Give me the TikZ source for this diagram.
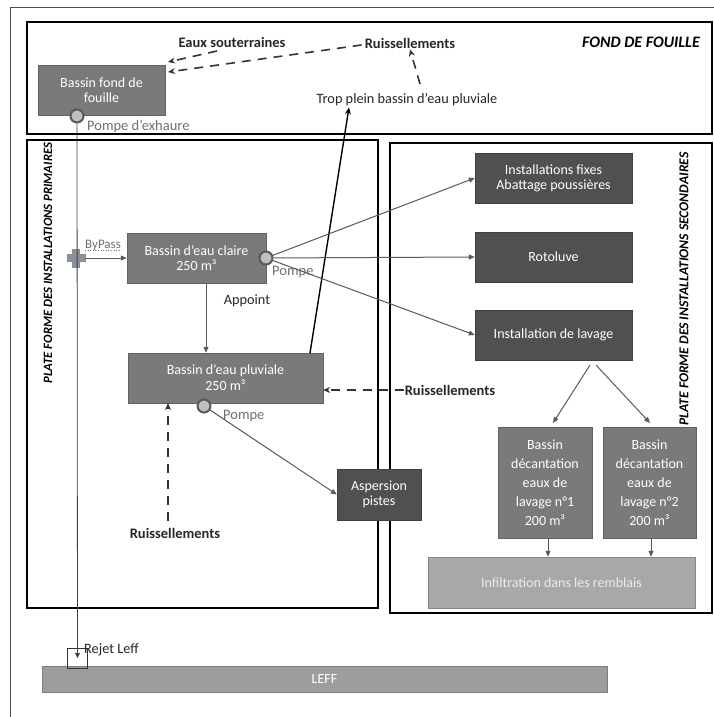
\documentclass[tikz,border=0pt]{standalone}
\usepackage{fontspec}
\setmainfont{Carlito}
\usetikzlibrary{arrows.meta,calc}
\definecolor{midgray}{HTML}{7A7A7A}
\definecolor{darkbox}{HTML}{505050}
\definecolor{lightbox}{HTML}{A8A8A8}
\definecolor{leffgray}{HTML}{9C9E9C}
\definecolor{flow}{HTML}{5A5A5A}
\definecolor{labgray}{HTML}{707070}
\definecolor{crossgray}{HTML}{8A909C}
\begin{document}
\begin{tikzpicture}[x=1pt,y=-1pt,
  boxtext/.style={text=white,align=center,inner sep=0pt,font=\fontsize{14}{15}\selectfont},
  midbox/.style={boxtext,fill=midgray,draw=midgray!80!black,line width=0.4pt},
  darkbox/.style={boxtext,fill=darkbox,draw=darkbox!80!black,line width=0.4pt},
  frame/.style={draw=black,line width=2.6pt},
  lab/.style={font=\fontsize{14.5}{16}\selectfont\bfseries,text=black!85,inner sep=1pt},
  plainlab/.style={font=\fontsize{14.3}{16}\selectfont,text=black!85,inner sep=1pt},
  graylab/.style={font=\fontsize{14.5}{16}\selectfont,text=labgray,inner sep=0pt,anchor=west},
  pump/.style={circle,draw=black!65,line width=2pt,fill=black!25,minimum size=13pt,inner sep=0pt},
  flowarrow/.style={draw=flow,line width=1pt,-{Triangle[length=6pt,width=5pt]}},
  dasharrow/.style={draw=black!80,line width=1.6pt,dash pattern=on 9pt off 7pt,-{Stealth[length=7pt,width=6pt]}},
  vlab/.style={font=\bfseries\itshape,rotate=90,inner sep=0pt}
]
\useasboundingbox (0,0) rectangle (714,717);
\fill[white] (0,0) rectangle (714,717);
% page border
\draw[black!70,line width=0.8pt] (10,717) -- (10,7) -- (714,7);
% frames
\draw[frame] (27,22) rectangle (712,134);
\draw[frame] (27,140) rectangle (378,608);
\draw[frame] (390,143) rectangle (712,613);
\node[vlab,font=\fontsize{12.7}{14}\selectfont\bfseries\itshape] (vprim) at (48,263) {PLATE FORME DES INSTALLATIONS PRIMAIRES};
\node[vlab,font=\fontsize{13.6}{16}\selectfont\bfseries\itshape] (vsec) at (684,289) {PLATE FORME DES INSTALLATIONS SECONDAIRES};
\node[font=\fontsize{16}{18}\selectfont\bfseries\itshape] (ff) at (641,42) {FOND DE FOUILLE};

% boxes
\node[midbox,minimum width=127pt,minimum height=50pt] (fond) at (101.5,90) {Bassin fond de\\fouille};
\node[midbox,minimum width=139pt,minimum height=50pt] (claire) at (196.5,258) {Bassin d’eau claire\\250 m³};
\node[midbox,minimum width=195pt,minimum height=50pt,font=\fontsize{14}{16}\selectfont] (pluv) at (225.5,378) {Bassin d’eau pluviale\\250 m³};
\node[darkbox,minimum width=84pt,minimum height=51pt] (asp) at (379,494.5) {Aspersion\\pistes};
\node[darkbox,minimum width=157pt,minimum height=50pt] (fixes) at (553.5,178) {Installations fixes\\Abattage poussières};
\node[darkbox,minimum width=157pt,minimum height=50pt] (roto) at (553.5,257) {Rotoluve};
\node[darkbox,minimum width=157pt,minimum height=50pt] (lav) at (553.5,335) {Installation de lavage};
\node[midbox,minimum width=94pt,minimum height=111pt,font=\fontsize{14}{19}\selectfont] (dec1) at (545,482.5) {Bassin\\décantation\\eaux de\\lavage n°1\\200 m³};
\node[midbox,minimum width=93pt,minimum height=111pt,font=\fontsize{14}{19}\selectfont] (dec2) at (649.5,482.5) {Bassin\\décantation\\eaux de\\lavage n°2\\200 m³};
\node[boxtext,fill=lightbox,draw=lightbox!80!black,line width=0.4pt,minimum width=267pt,minimum height=51pt,text=white!92!black] (inf) at (561.5,582.5) {Infiltration dans les remblais};
\node[boxtext,fill=leffgray,draw=leffgray!80!black,line width=0.4pt,minimum width=565pt,minimum height=26pt] (leff) at (324.5,679) {LEFF};

% labels
\node[lab] (eaux) at (232,42) {Eaux souterraines};
\node[lab] (ruisT) at (410,43) {Ruissellements};
\node[plainlab] (trop) at (407,100) {Trop plein bassin d’eau pluviale};
\node[plainlab] (appoint) at (247,301) {Appoint};
\node[lab] (ruisR) at (450,390) {Ruissellements};
\node[lab] (ruisB) at (175,533) {Ruissellements};

% pumps
\node[pump] (pA) at (77,116) {};
\node[pump] (pB) at (266,258) {};
\node[pump] (pC) at (204,406) {};
\node[graylab] (lA) at (87,127) {Pompe d’exhaure};
\node[graylab] (lB) at (272,272) {Pompe};
\node[graylab] (lC) at (223,416) {Pompe};

% bypass cross
\coordinate (bp) at (76,258);
\fill[fill=crossgray,draw=black!45,line width=0.3pt,shift={(bp)}]
  (-3.5,-9) -- (3.5,-9) -- (3.5,-3.5) -- (9,-3.5) -- (9,3.5) -- (3.5,3.5) -- (3.5,9) -- (-3.5,9) -- (-3.5,3.5) -- (-9,3.5) -- (-9,-3.5) -- (-3.5,-3.5) -- cycle;
\node[graylab,font=\fontsize{13}{15}\selectfont] (lbp) at (85,245) {ByPass};
\draw[labgray,dotted,line width=0.6pt] (lbp.south west) -- (lbp.south east);

% rejet box
\node[draw=black!80,line width=0.8pt,minimum width=20pt,minimum height=20pt,inner sep=0pt] (rejet) at (77.5,658) {};
\node[plainlab,anchor=west] (lrejet) at (83,650) {Rejet Leff};

% main vertical line
\draw[black!75,line width=0.8pt,-{Triangle[length=5pt,width=5pt]}] (pA.south) -- (rejet.center);
\draw[flowarrow] (bp) ++(9,0) coordinate (bpE) -- (claire.west);

% dashed
\coordinate (d1s) at (217,51);
\coordinate (d1e) at (168,62);
\coordinate (d2e) at (168,72);
\coordinate (d3s) at (420,84);
\draw[dasharrow] (d1s) -- (d1e);
\draw[dasharrow] (ruisT.west) ++(-2,2) -- (d2e);
\draw[dasharrow] (d3s) -- (ruisT.south);
\draw[dasharrow] (ruisR.west) -- (pluv.east |- ruisR.west);
\draw[dasharrow] (ruisB.north) ++(-7,-6) coordinate (rbn) -- (rbn |- pluv.south);

% trop plein
\coordinate (tp) at (310,353);
\draw[black,line width=1.4pt,-{Stealth[length=7pt,width=6pt]}] (tp) -- (trop.south -| 349,0);

% flows
\draw[flowarrow] (claire.south -| 206,0) -- (pluv.north -| 206,0);
\draw[flowarrow] (pB) -- (fixes.west);
\draw[flowarrow] (pB) -- (roto.west);
\draw[flowarrow] (pB) -- (lav.west);
\draw[flowarrow] (pC) -- (asp.west);
\coordinate (lavL) at (590,365);
\coordinate (lavR) at (596,365);
\draw[flowarrow] (lavL) -- (553,423);
\draw[flowarrow] (lavR) -- (650,423);
\draw[flowarrow] (dec1.south -| 548,0) -- (inf.north -| 548,0);
\draw[flowarrow] (dec2.south -| 651,0) -- (inf.north -| 651,0);
\end{tikzpicture}
\end{document}
